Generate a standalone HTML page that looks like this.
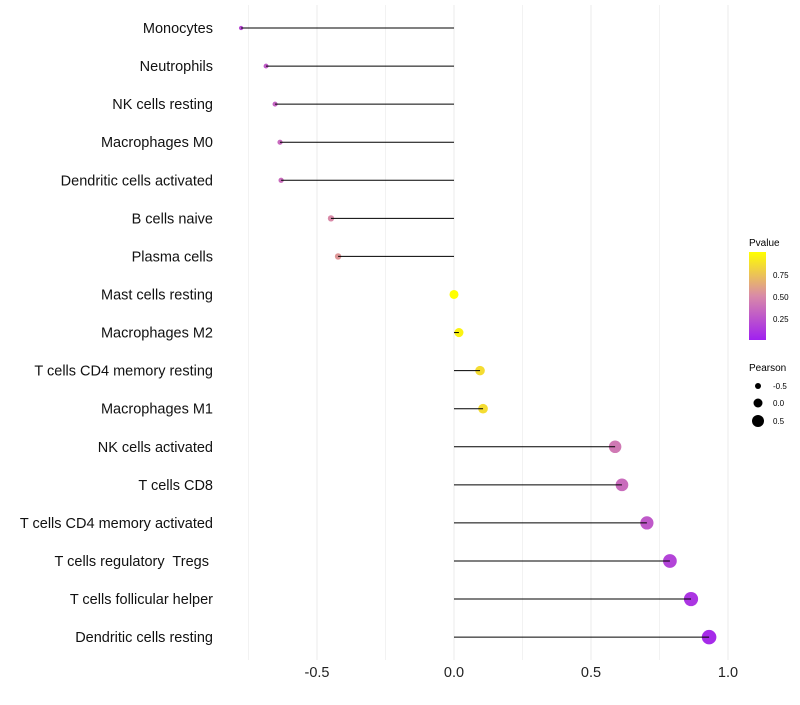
<!DOCTYPE html>
<html><head><meta charset="utf-8"><style>
body{margin:0;background:#fff;font-family:"Liberation Sans",sans-serif;}
svg text{font-family:"Liberation Sans",sans-serif;white-space:pre;}
</style></head><body>
<svg id="chart" width="800" height="700" xmlns="http://www.w3.org/2000/svg">
<g id="grid"></g>
<g id="marks"></g>
<g id="ylabels"></g>
<g id="xlabels"></g>
<g id="legend">
<defs><linearGradient id="pg" x1="0" y1="1" x2="0" y2="0">
<stop offset="0" stop-color="#a020f0"/><stop offset="0.5" stop-color="#d98aa8"/><stop offset="1" stop-color="#ffff00"/></linearGradient></defs>
<text x="749" y="246" font-size="10">Pvalue</text>
<rect x="749" y="252" width="17" height="88" fill="url(#pg)"/>
<text x="773" y="278" font-size="8">0.75</text>
<text x="773" y="300" font-size="8">0.50</text>
<text x="773" y="322" font-size="8">0.25</text>
<text x="749" y="371" font-size="10">Pearson</text>
<circle cx="758" cy="386" r="3" fill="#000"/>
<circle cx="758" cy="403" r="4.5" fill="#000"/>
<circle cx="758" cy="421" r="6" fill="#000"/>
<text x="773" y="389" font-size="8">-0.5</text>
<text x="773" y="406" font-size="8">0.0</text>
<text x="773" y="424" font-size="8">0.5</text>
</g>
</svg>
<script>
const categories=["Monocytes","Neutrophils","NK cells resting","Macrophages M0","Dendritic cells activated","B cells naive","Plasma cells","Mast cells resting","Macrophages M2","T cells CD4 memory resting","Macrophages M1","NK cells activated","T cells CD8","T cells CD4 memory activated","T cells regulatory  Tregs ","T cells follicular helper","Dendritic cells resting"];
const pearson=[-0.777,-0.686,-0.653,-0.635,-0.631,-0.449,-0.423,0.0,0.018,0.095,0.106,0.588,0.613,0.704,0.788,0.865,0.931];
const pvalue=[0.2,0.28,0.32,0.35,0.36,0.5,0.55,1.0,0.95,0.85,0.85,0.42,0.36,0.27,0.17,0.1,0.05];
const xTicks=[-0.5,0,0.5,1.0];
const xTickLabels=["-0.5","0.0","0.5","1.0"];
const xMinor=[-0.75,-0.25,0.25,0.75];
const NS="http://www.w3.org/2000/svg";
const x=v=>454+v*274;
const y=i=>28+i*38.07;
const r=v=>4.5+3*v;
function lerp(a,b,t){return a.map((c,k)=>Math.round(c+(b[k]-c)*t));}
function col(p){const lo=[160,32,240],mid=[217,138,168],hi=[255,255,0];
const c=p<0.5?lerp(lo,mid,p/0.5):lerp(mid,hi,(p-0.5)/0.5);return `rgb(${c})`;}
function mk(tag,attrs,parent){const e=document.createElementNS(NS,tag);for(const k in attrs)e.setAttribute(k,attrs[k]);parent.appendChild(e);return e;}
const grid=document.getElementById('grid'),marks=document.getElementById('marks'),yl=document.getElementById('ylabels'),xl=document.getElementById('xlabels');
xMinor.forEach(v=>{const l=mk('line',{x1:x(v),x2:x(v),y1:5,y2:660,stroke:'#f2f2f2','stroke-width':1},grid);

});
xTicks.forEach((v,i)=>{const l=mk('line',{x1:x(v),x2:x(v),y1:5,y2:660,stroke:'#ebebeb','stroke-width':1},grid);


const t=mk('text',{x:x(v),y:677,'font-size':14.5,'text-anchor':'middle',fill:'#222'},xl);t.textContent=xTickLabels[i];

});
categories.forEach((c,i)=>{
const t=mk('text',{x:213,y:y(i)+5,'font-size':14.5,'text-anchor':'end',fill:'#111'},yl);t.textContent=c;


const p=mk('circle',{cx:x(pearson[i]),cy:y(i),r:r(pearson[i]),fill:col(pvalue[i])},marks);


const l=mk('line',{x1:x(0),x2:x(pearson[i]),y1:y(i),y2:y(i),stroke:'#000','stroke-width':1},marks);


});
</script>
</body></html>
